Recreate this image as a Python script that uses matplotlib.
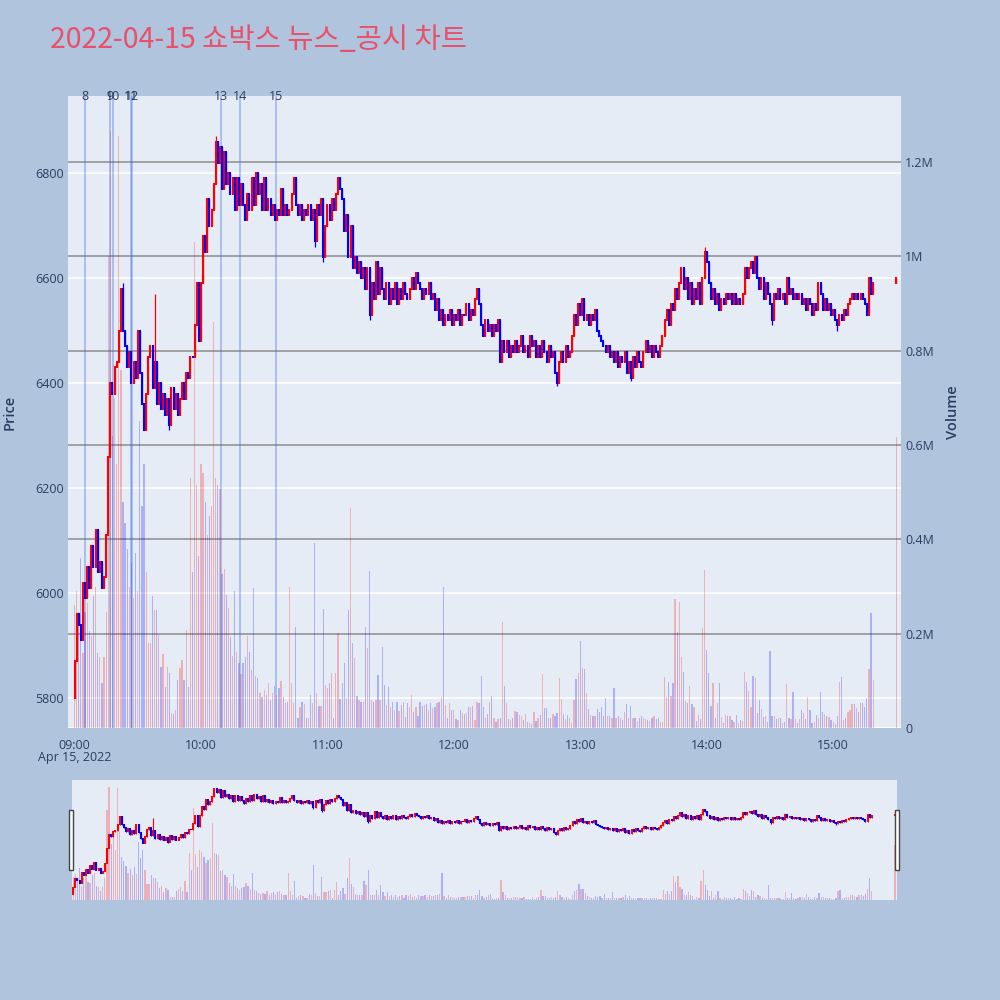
import matplotlib as mpl
mpl.use('Agg')
import matplotlib.pyplot as plt
import matplotlib.transforms as mtransforms
from matplotlib.patches import Rectangle
import numpy as np

#======================================================================

TITLE = '2022-04-15 쇼박스 뉴스_공시 차트'

open_0900 = 5800

# close per minute, 09:00 .. 15:19 (10 values per row)
closes = [
    5870, 5960, 5940, 5910, 6020, 5990, 6050, 6010, 6090, 6050,
    6120, 6040, 6060, 6010, 6030, 6110, 6260, 6400, 6380, 6430,
    6440, 6500, 6580, 6500, 6470, 6430, 6460, 6400, 6440, 6410,
    6500, 6420, 6360, 6310, 6380, 6450, 6470, 6390, 6440, 6360,
    6400, 6350, 6380, 6340, 6370, 6320, 6390, 6350, 6380, 6340,
    6370, 6400, 6370, 6420, 6410, 6450, 6450, 6510, 6590, 6480,
    6590, 6680, 6650, 6750, 6700, 6730, 6780, 6860, 6820, 6850,
    6770, 6840, 6780, 6800, 6760, 6790, 6730, 6790, 6740, 6780,
    6740, 6710, 6760, 6730, 6790, 6740, 6800, 6760, 6780, 6730,
    6790, 6730, 6750, 6720, 6740, 6710, 6730, 6720, 6770, 6720,
    6740, 6720, 6730, 6760, 6790, 6740, 6720, 6740, 6710, 6730,
    6720, 6740, 6710, 6730, 6670, 6740, 6720, 6750, 6640, 6700,
    6740, 6710, 6750, 6730, 6760, 6790, 6770, 6750, 6690, 6720,
    6640, 6700, 6620, 6640, 6610, 6630, 6600, 6620, 6580, 6620,
    6530, 6590, 6560, 6630, 6570, 6620, 6580, 6560, 6590, 6550,
    6580, 6560, 6590, 6550, 6580, 6560, 6590, 6570, 6560, 6580,
    6600, 6580, 6610, 6590, 6580, 6560, 6580, 6570, 6590, 6560,
    6570, 6540, 6560, 6520, 6540, 6510, 6530, 6520, 6540, 6510,
    6530, 6520, 6540, 6510, 6530, 6530, 6550, 6520, 6540, 6530,
    6560, 6580, 6550, 6510, 6490, 6520, 6500, 6510, 6490, 6510,
    6500, 6520, 6440, 6480, 6460, 6480, 6450, 6470, 6460, 6480,
    6460, 6470, 6490, 6460, 6470, 6450, 6490, 6470, 6480, 6450,
    6470, 6450, 6480, 6460, 6440, 6470, 6450, 6460, 6420, 6400,
    6440, 6460, 6440, 6470, 6450, 6460, 6490, 6530, 6510, 6550,
    6530, 6560, 6520, 6530, 6510, 6530, 6520, 6540, 6500, 6490,
    6480, 6470, 6460, 6470, 6450, 6460, 6440, 6460, 6430, 6450,
    6440, 6460, 6420, 6440, 6410, 6450, 6430, 6460, 6440, 6430,
    6460, 6480, 6460, 6470, 6450, 6470, 6460, 6450, 6470, 6490,
    6520, 6540, 6510, 6550, 6540, 6580, 6560, 6590, 6620, 6580,
    6600, 6560, 6590, 6550, 6580, 6560, 6590, 6550, 6600, 6650,
    6630, 6590, 6560, 6580, 6550, 6570, 6540, 6560, 6550, 6570,
    6560, 6570, 6550, 6570, 6550, 6560, 6550, 6570, 6620, 6600,
    6620, 6630, 6610, 6640, 6600, 6580, 6600, 6560, 6590, 6570,
    6550, 6520, 6570, 6560, 6580, 6560, 6570, 6550, 6600, 6570,
    6580, 6560, 6570, 6560, 6570, 6550, 6560, 6540, 6560, 6550,
    6530, 6550, 6540, 6590, 6570, 6540, 6560, 6540, 6550, 6530,
    6540, 6520, 6510, 6530, 6520, 6540, 6530, 6550, 6560, 6570,
    6560, 6570, 6560, 6570, 6560, 6550, 6530, 6600, 6570, 6590,
]

# volume per minute in thousands of shares, 09:00 .. 15:19
volumes_k = [
    260, 290, 245, 360, 160, 245, 265, 205, 195, 280,
    300, 160, 150, 95, 150, 245, 1000, 1265, 620, 700,
    560, 1255, 760, 480, 435, 380, 300, 350, 275, 370,
    290, 650, 470, 560, 330, 180, 180, 280, 250, 250,
    197, 129, 157, 87, 129, 117, 32, 30, 38, 102,
    128, 144, 102, 208, 87, 530, 330, 1030, 515, 365,
    560, 540, 480, 410, 450, 470, 860, 530, 515, 507,
    326, 337, 282, 254, 193, 153, 290, 161, 138, 114,
    138, 150, 195, 161, 123, 297, 110, 106, 74, 66,
    80, 70, 95, 60, 75, 90, 70, 85, 100, 65,
    53, 55, 300, 95, 53, 214, 21, 44, 55, 50,
    21, 21, 70, 53, 392, 74, 47, 47, 252, 91,
    85, 95, 117, 21, 117, 201, 61, 95, 138, 64,
    250, 466, 180, 148, 68, 59, 55, 55, 214, 170,
    333, 59, 55, 59, 112, 59, 172, 91, 49, 87,
    45, 55, 38, 55, 35, 49, 55, 23, 53, 45,
    70, 34, 45, 25, 55, 47, 48, 51, 38, 53,
    42, 44, 53, 55, 66, 300, 49, 21, 53, 38,
    38, 19, 17, 38, 32, 30, 32, 45, 45, 47,
    17, 55, 53, 110, 45, 21, 30, 55, 68, 21,
    13, 19, 21, 225, 89, 53, 19, 17, 21, 36,
    34, 28, 25, 17, 30, 13, 11, 9, 34, 15,
    21, 28, 114, 42, 42, 21, 21, 30, 26, 32,
    106, 61, 30, 19, 28, 21, 11, 59, 104, 117,
    184, 127, 125, 74, 40, 28, 26, 26, 40, 34,
    45, 25, 63, 26, 26, 21, 85, 21, 26, 21,
    17, 34, 51, 21, 47, 21, 21, 15, 21, 25,
    21, 19, 17, 15, 21, 25, 19, 21, 13, 13,
    108, 66, 97, 68, 95, 273, 204, 267, 150, 119,
    57, 53, 89, 51, 45, 15, 28, 19, 212, 335,
    165, 117, 47, 95, 21, 53, 95, 23, 11, 28,
    26, 26, 17, 13, 28, 11, 17, 15, 119, 97,
    78, 45, 110, 106, 32, 59, 40, 23, 26, 13,
    163, 26, 26, 19, 21, 21, 11, 13, 93, 21,
    19, 76, 19, 11, 19, 38, 32, 19, 66, 38,
    11, 13, 28, 21, 76, 34, 30, 25, 23, 17,
    13, 9, 26, 97, 108, 17, 21, 34, 38, 51,
    51, 42, 34, 53, 53, 45, 63, 125, 244, 102,
]

# closing auction, 15:30
close_1530 = 6600
volume_1530_k = 617

# wicks that reach past the candle bodies
wick_minutes = [10, 23, 38, 45, 67, 114, 118, 140, 202, 229, 264, 299, 323, 331, 362]
wick_prices = [6120, 6590, 6570, 6310, 6870, 6660, 6630, 6520, 6440, 6395,
               6405, 6660, 6640, 6510, 6500]

# news / disclosure markers (minutes after 09:00)
news_labels = ['8', '9', '10', '11', '12', '13', '14', '15']
news_minutes = [5.1, 16.6, 18.2, 26.9, 27.4, 69.7, 78.7, 95.6]

time_labels = ['09:00', '10:00', '11:00', '12:00', '13:00', '14:00', '15:00']
date_label = 'Apr 15, 2022'
price_ticks = [5800, 6000, 6200, 6400, 6600, 6800]
volume_ticks_k = [0, 200, 400, 600, 800, 1000, 1200]
volume_tick_labels = ['0', '0.2M', '0.4M', '0.6M', '0.8M', '1M', '1.2M']

#======================================================================

PAPER = '#B0C4DE'
PLOT_BG = '#E5ECF6'
FONT_COLOR = '#2a3f5f'
UP = '#FF0000'
DOWN = '#0000FF'
UP_VOL = (1.0, 0.0, 0.0, 0.25)
DOWN_VOL = (0.0, 0.0, 1.0, 0.25)

XLIM = (-3.1, 392.2)
YLIM_PRICE = (5743, 6947)
YLIM_VOL = (0, 1340)

W, H = 1000, 1000

def px_box(x0, y0, x1, y1):
    return [x0/W, 1 - y1/H, (x1 - x0)/W, (y1 - y0)/H]

def build_ohlc():
    cl = list(closes) + [close_1530]
    op = [open_0900] + cl[:-1]
    mins = list(range(len(closes))) + [390]
    vol = list(volumes_k) + [volume_1530_k]
    hi = [max(o, c) for o, c in zip(op, cl)]
    lo = [min(o, c) for o, c in zip(op, cl)]
    for m, p in zip(wick_minutes, wick_prices):
        hi[m] = max(hi[m], p)
        lo[m] = min(lo[m], p)
    return (np.array(mins), np.array(op), np.array(hi), np.array(lo),
            np.array(cl), np.array(vol))

def draw_candles(ax, mins, op, hi, lo, cl, body_lw, wick_lw):
    up = cl > op
    for mask, color in [(up, UP), (~up, DOWN)]:
        ax.vlines(mins[mask], lo[mask], hi[mask], color=color, lw=wick_lw,
                  zorder=3)
        b0 = np.minimum(op[mask], cl[mask]) - 2
        b1 = np.maximum(op[mask], cl[mask]) + 2
        ax.vlines(mins[mask], b0, b1, color=color, lw=body_lw, zorder=3)

def draw_volume(ax, mins, op, cl, vol, width):
    colors = [UP_VOL if c > o else DOWN_VOL for o, c in zip(op, cl)]
    ax.bar(mins, vol, width=width, color=colors, linewidth=0, zorder=2)

#======================================================================

def main():
    plt.rcParams['font.family'] = ['Open Sans', 'DejaVu Sans']
    mins, op, hi, lo, cl, vol = build_ohlc()

    fig = plt.figure(figsize=(W/100, H/100), dpi=100, facecolor=PAPER)

    # main chart: volume axes below, price axes on top
    ax_v = fig.add_axes(px_box(68, 96, 901, 728))
    ax_p = ax_v.twinx()
    ax_v.set_facecolor(PLOT_BG)
    ax_p.patch.set_visible(False)
    for a in (ax_v, ax_p):
        a.set_xlim(*XLIM)
        for s in a.spines.values():
            s.set_visible(False)
    ax_p.set_ylim(*YLIM_PRICE)
    ax_v.set_ylim(*YLIM_VOL)

    # price axis on the left, volume axis on the right
    ax_p.yaxis.tick_left()
    ax_v.yaxis.tick_right()
    ax_p.set_yticks(price_ticks)
    ax_p.set_yticklabels([str(p) for p in price_ticks])
    ax_v.set_yticks(volume_ticks_k)
    ax_v.set_yticklabels(volume_tick_labels)
    ax_v.set_xticks(range(0, 361, 60))
    ax_v.set_xticklabels(time_labels)
    for a in (ax_v, ax_p):
        a.tick_params(length=0, labelsize=9, labelcolor=FONT_COLOR, pad=3)
    ax_v.tick_params(axis='x', pad=8, labelbottom=True)

    # grids, all in the bottom layer
    for v in volume_ticks_k[1:]:
        ax_v.axhline(v, color='#8c8c8c', lw=1.1, zorder=0.5)
    ax_v.axhline(0, color='white', lw=2, zorder=0.5)
    tr = mtransforms.blended_transform_factory(ax_v.transAxes, ax_p.transData)
    for p in price_ticks:
        ax_v.plot([0, 1], [p, p], color='white', lw=1.1, transform=tr,
                  zorder=0.4)

    draw_volume(ax_v, mins, op, cl, vol, width=0.6)
    draw_candles(ax_p, mins, op, hi, lo, cl, body_lw=1.5, wick_lw=0.9)

    # news markers
    trn = mtransforms.blended_transform_factory(ax_p.transData, ax_p.transAxes)
    for lbl, m in zip(news_labels, news_minutes):
        ax_p.axvline(m, color=(0.25, 0.41, 0.88, 0.45), lw=1.1, zorder=2.5)
        ax_p.text(m, 1.0, lbl, transform=trn, ha='center', va='center',
                  fontsize=9, color=FONT_COLOR, clip_on=False)

    ax_v.annotate(date_label, xy=(0, 0), xycoords=('data', 'axes fraction'),
                  xytext=(0, -21.6), textcoords='offset points', ha='center',
                  va='center', fontsize=9, color=FONT_COLOR)

    fig.text(50/W, 1 - 40/H, TITLE, ha='left', va='center', fontsize=20.5,
             color='#E9506A', family=['Noto Sans CJK KR', 'DejaVu Sans'])
    fig.text(10/W, 1 - 412/H, 'Price', rotation=90, ha='center', va='center',
             fontsize=10.5, color=FONT_COLOR, fontweight='semibold')
    fig.text(953/W, 1 - 412/H, 'Volume', rotation=90, ha='center',
             va='center', fontsize=10.5, color=FONT_COLOR,
             fontweight='semibold')

    # range slider
    sl_v = fig.add_axes(px_box(72, 780, 897, 900))
    sl_p = sl_v.twinx()
    sl_v.set_facecolor(PLOT_BG)
    sl_p.patch.set_visible(False)
    for a in (sl_v, sl_p):
        a.set_xlim(-0.6, 391.0)
        a.set_xticks([])
        a.set_yticks([])
        for s in a.spines.values():
            s.set_visible(False)
    sl_v.set_ylim(*YLIM_VOL)
    sl_p.set_ylim(*YLIM_PRICE)
    draw_volume(sl_v, mins, op, cl, vol, width=0.6)
    draw_candles(sl_p, mins, op, hi, lo, cl, body_lw=1.5, wick_lw=0.8)

    for x0 in (68.5, 894.5):
        fig.patches.append(Rectangle((x0/W, 1 - 870/H), 4/W, 60/H,
                                     transform=fig.transFigure,
                                     facecolor='white', edgecolor='#444444',
                                     lw=1))

    fig.savefig('out.png', dpi=100, facecolor=PAPER)
    plt.close()

#======================================================================

if __name__ == '__main__':
    main()
